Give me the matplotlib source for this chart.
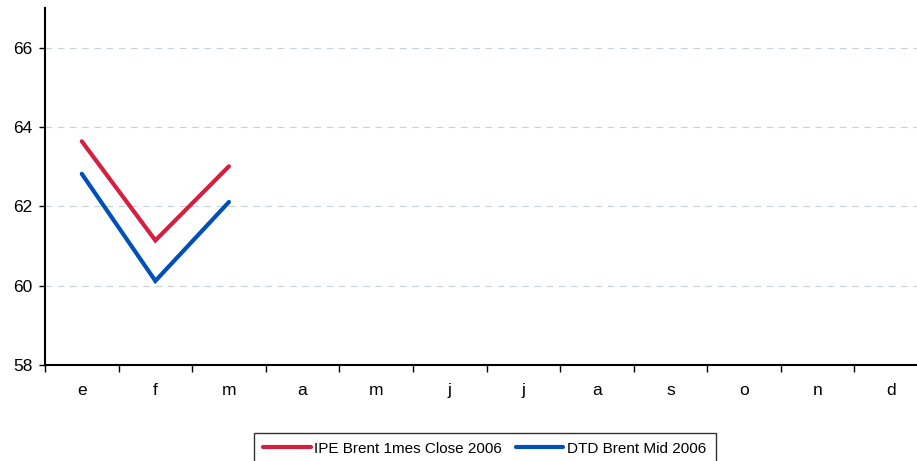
import matplotlib
matplotlib.use("Agg")
import matplotlib.pyplot as plt
import numpy as np

plt.rcParams['font.family'] = ['Liberation Sans', 'DejaVu Sans']

# Data
months = ["e", "f", "m", "a", "m", "j", "j", "a", "s", "o", "n", "d"]
ipe_brent = [63.64, 61.14, 63.01]
dtd_brent = [62.82, 60.12, 62.11]

fig = plt.figure(figsize=(9.17, 4.61), dpi=100)
# axes spans past the right edge like the original
ax = fig.add_axes([45 / 917, 1 - 365 / 461, 883 / 917, 357 / 461])

x = np.arange(len(ipe_brent))
ax.plot(x, ipe_brent, color="#D41F3F", lw=3, solid_capstyle="round",
        solid_joinstyle="miter", label="IPE Brent 1mes Close 2006")
ax.plot(x, dtd_brent, color="#0050B8", lw=3, solid_capstyle="round",
        solid_joinstyle="miter", label="DTD Brent Mid 2006")

ax.set_xlim(-0.5, len(months) - 0.5)
ax.set_ylim(58, 67)
ax.set_yticks([58, 60, 62, 64, 66])
ax.set_xticks(np.arange(len(months)))
ax.set_xticklabels(months)
ax.set_xticks(np.arange(len(months) + 1) - 0.5, minor=True)
ax.tick_params(axis="x", which="major", length=0, pad=13, labelsize=12.5)
ax.tick_params(axis="x", which="minor", length=5, width=1)
ax.tick_params(axis="y", length=4, width=1, labelsize=12.5, pad=5)

for v in [60, 62, 64, 66]:
    ax.axhline(v, color="#C8D0D8", lw=0.8, ls=(0, (6, 5)), zorder=0)

for s in ["top", "right"]:
    ax.spines[s].set_visible(False)
ax.spines["left"].set_linewidth(1.5)
ax.spines["bottom"].set_linewidth(1.5)

# legend box runs off the bottom edge, as in the original
leg = fig.legend(loc="lower left", bbox_to_anchor=(254 / 917, -4 / 461),
                 ncol=2, frameon=True, fancybox=False, fontsize=11,
                 handlelength=3.1, handletextpad=0.25, columnspacing=0.9,
                 borderpad=0.6, borderaxespad=0)
leg.get_frame().set_edgecolor("black")
leg.get_frame().set_linewidth(1.0)

fig.savefig("out.png", dpi=100)
